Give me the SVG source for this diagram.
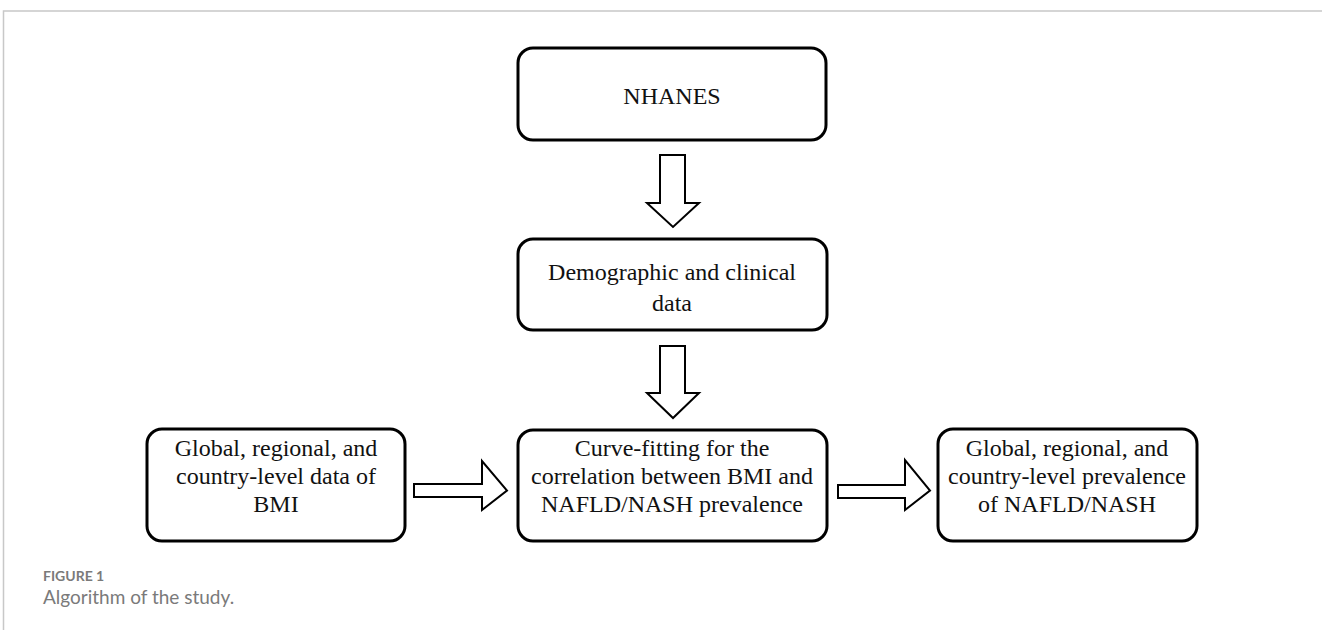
<svg xmlns="http://www.w3.org/2000/svg" width="1322" height="630" viewBox="0 0 1322 630">
<style>
.box{fill:#fff;stroke:#000;stroke-width:3}
.arr{fill:#fff;stroke:#000;stroke-width:2}
.t{font-family:"Liberation Serif","Times New Roman",serif;font-size:24px;fill:#111;text-anchor:middle}
.cap1{font-family:Lato,"Open Sans",sans-serif;font-size:14px;font-weight:bold;fill:#7a7a7a}
.cap2{font-family:Lato,"Open Sans",sans-serif;font-size:19px;fill:#7a7a7a}
</style>
<rect width="1322" height="630" fill="#fff"/>
<path d="M3.5 630 V11 H1322" fill="none" stroke="#c8c8c8" stroke-width="1.5"/>
<g id="connectors">
<path class="arr" d="M660 155 H685 V203 H699 L673 227 L647 203 H660 Z"/>
<path class="arr" d="M660 346 H685 V393 H699 L673 418 L647 393 H660 Z"/>
<path class="arr" d="M414 484 H482 V461 L507 490.5 L482 510 V497 H414 Z"/>
<path class="arr" d="M838 485 H905 V460 L930 490.5 L905 510 V498 H838 Z"/>
</g>
<g id="nhanes">
<rect class="box" x="518" y="48" width="308" height="92" rx="15"/>
<text class="t" x="672" y="104">NHANES</text>
</g>
<g id="demographic">
<rect class="box" x="518" y="239" width="309" height="91" rx="15"/>
<text class="t" x="672" y="280">Demographic and clinical</text>
<text class="t" x="672" y="311">data</text>
</g>
<g id="bmi">
<rect class="box" x="147" y="429" width="258" height="112" rx="15"/>
<text class="t" x="276" y="456">Global, regional, and</text>
<text class="t" x="276" y="484">country-level data of</text>
<text class="t" x="276" y="512">BMI</text>
</g>
<g id="curve">
<rect class="box" x="518" y="430" width="309" height="111" rx="15"/>
<text class="t" x="672" y="456">Curve-fitting for the</text>
<text class="t" x="672" y="484">correlation between BMI and</text>
<text class="t" x="672" y="512">NAFLD/NASH prevalence</text>
</g>
<g id="prevalence">
<rect class="box" x="938" y="429" width="259" height="112" rx="15"/>
<text class="t" x="1067" y="456">Global, regional, and</text>
<text class="t" x="1067" y="484">country-level prevalence</text>
<text class="t" x="1067" y="512">of NAFLD/NASH</text>
</g>
<g id="caption">
<text class="cap1" x="43" y="581">FIGURE 1</text>
<text class="cap2" x="43" y="604">Algorithm of the study.</text>
</g>
</svg>
